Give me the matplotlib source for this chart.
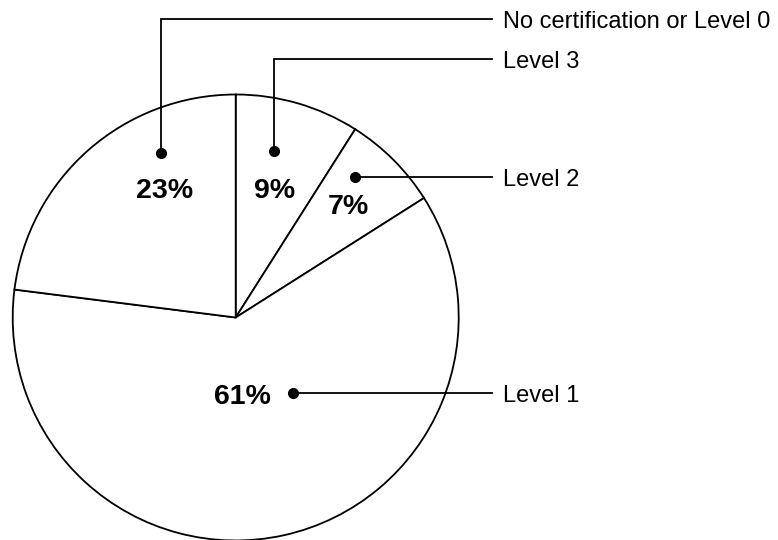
import matplotlib.pyplot as plt

plt.rcParams['font.family'] = ['Liberation Sans', 'DejaVu Sans']

# slices clockwise from 12 o'clock
labels = ['Level 3', 'Level 2', 'Level 1', 'No certification or Level 0']
shares = [9, 7, 61, 23]
pct_text = ['9%', '7%', '61%', '23%']

# annotation layout (pixel coords, y from top)
dot_xy = [(274, 151), (355, 177), (293, 393), (161, 153)]
pct_xy = [(274.5, 197.5), (348.7, 213.5), (242.4, 404.5), (164.3, 197.5)]
label_y = [59, 177, 393, 18.5]
line_end_x = 492

W, H = 778, 540
fig = plt.figure(figsize=(W / 100, H / 100), dpi=100)
ax = fig.add_axes([0, 0, 1, 1])
ax.set_xlim(0, W)
ax.set_ylim(0, H)
ax.set_aspect('equal')
ax.axis('off')

cx, cy, r = 235.7, H - 317.5, 223
ax.pie(shares, startangle=90, counterclock=False, center=(cx, cy), radius=r,
       colors=['white'] * 4,
       wedgeprops=dict(edgecolor='black', linewidth=1.3))
ax.set_xlim(0, W)
ax.set_ylim(0, H)

for i in range(len(labels)):
    dx, dy = dot_xy[i]
    ly = label_y[i]
    if abs(ly - dy) > 2:
        ax.plot([dx, dx, line_end_x], [H - dy, H - ly, H - ly], color='black', lw=1.3,
                solid_joinstyle='miter')
    else:
        ax.plot([dx, line_end_x], [H - dy, H - dy], color='black', lw=1.3)
    ax.plot(dx, H - dy, 'o', color='black', markersize=7)
    px, py = pct_xy[i]
    ax.text(px, H - py, pct_text[i], ha='center', va='baseline', fontsize=20.5, fontweight='bold')
    ax.text(503, H - ly - 9, labels[i], ha='left', va='baseline', fontsize=17)

fig.savefig('out.png', dpi=100)
